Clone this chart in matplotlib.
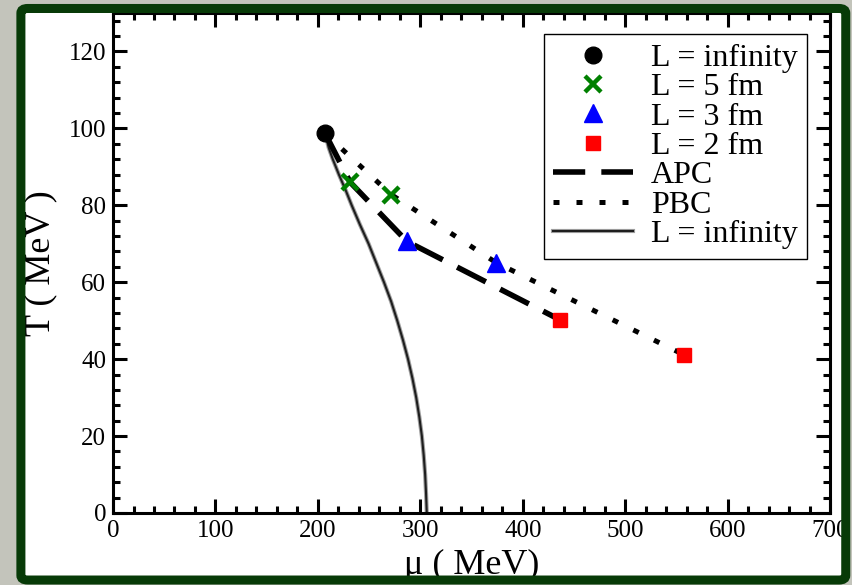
import matplotlib
matplotlib.use("Agg")
import matplotlib.pyplot as plt
import matplotlib.patheffects as pe
from matplotlib.patches import FancyBboxPatch, Rectangle
from matplotlib.ticker import MultipleLocator

plt.rcParams['font.family'] = ['Liberation Serif', 'DejaVu Serif']

# critical end point for each box size
mu_inf, T_inf = [207], [98.7]
mu_5fm = [231.5, 271.5]
T_5fm = [86.0, 82.8]
mu_3fm = [287, 374]
T_3fm = [70.6, 65.1]
mu_2fm = [436.5, 557.6]
T_2fm = [50.2, 41.1]

# lines through the end points
mu_apc = [207, 231.5, 287, 436.5]
T_apc = [98.7, 86.0, 70.6, 50.2]
mu_pbc = [207, 271.5, 374, 557.6]
T_pbc = [98.7, 82.8, 65.1, 41.1]

# phase boundary, L = infinity
mu_curve = [207, 210.5, 214.5, 220.5, 227, 233, 241, 249.5, 257, 264.5, 271.5,
            277.5, 283, 288, 292.3, 296, 299, 301.5, 303.3, 304.7, 305.6, 306.3]
T_curve = [98.7, 95, 92, 88, 84, 80, 75, 70, 65, 60, 55,
           50, 45, 40, 35, 30, 25, 20, 15, 10, 5, 0]

fig = plt.figure(figsize=(8.53, 5.85), dpi=100, facecolor='#c3c4bb')

# white panel + green frame
fig.patches.append(Rectangle((0.026, 0.012), 0.964, 0.97, transform=fig.transFigure,
                             facecolor='white', edgecolor='none', zorder=-5))
fig.patches.append(FancyBboxPatch((0.0245, 0.0085), 0.967, 0.977,
                                  boxstyle='round,pad=0,rounding_size=0.008',
                                  transform=fig.transFigure, facecolor='none',
                                  edgecolor='#073a07', lw=6.5, zorder=5))

ax = fig.add_axes([0.1325, 0.1231, 0.8406, 0.8547])
ax.set_facecolor('white')

curve, = ax.plot(mu_curve, T_curve, color='#1e1e1e', lw=1.5, label='L = infinity',
                 path_effects=[pe.Stroke(linewidth=3.0, foreground='#a0a0a0'), pe.Normal()],
                 zorder=2)
apc, = ax.plot(mu_apc, T_apc, color='black', lw=4, dashes=(5.8, 2.9), label='APC', zorder=3)
pbc, = ax.plot(mu_pbc, T_pbc, color='black', lw=3.6, dashes=(1.2, 3.4),
               dash_capstyle='butt', label='PBC', zorder=3)

p1, = ax.plot(mu_inf, T_inf, 'o', color='black', ms=12, ls='none', label='L = infinity', zorder=4)
p2, = ax.plot(mu_5fm, T_5fm, 'x', color='green', ms=11, mew=3.2, ls='none', label='L = 5 fm', zorder=4)
p3, = ax.plot(mu_3fm, T_3fm, '^', color='blue', ms=13, ls='none', label='L = 3 fm', zorder=4)
p4, = ax.plot(mu_2fm, T_2fm, 's', color='red', ms=10.5, ls='none', label='L = 2 fm', zorder=4)

ax.set_xlim(0, 700)
ax.set_ylim(0, 130)
ax.xaxis.set_major_locator(MultipleLocator(100))
ax.xaxis.set_minor_locator(MultipleLocator(20))
ax.yaxis.set_major_locator(MultipleLocator(20))
ax.yaxis.set_minor_locator(MultipleLocator(4))
ax.tick_params(which='both', direction='in', top=True, right=True, width=2.2, labelsize=18)
ax.tick_params(which='major', length=10, pad=5)
ax.tick_params(which='minor', length=5)
for s in ax.spines.values():
    s.set_linewidth(2.2)

ax.set_xlabel('μ ( MeV)', fontsize=26)
ax.set_ylabel('T ( MeV )', fontsize=26)
ax.xaxis.set_label_coords(0.5, -0.072)
ax.yaxis.set_label_coords(-0.077, 0.5)

leg = ax.legend([p1, p2, p3, p4, apc, pbc, curve],
                ['L = infinity', 'L = 5 fm', 'L = 3 fm', 'L = 2 fm', 'APC', 'PBC', 'L = infinity'],
                loc='upper right', bbox_to_anchor=(0.968, 0.958), borderaxespad=0,
                fontsize=23, numpoints=1, handlelength=2.5, handletextpad=0.55,
                labelspacing=0.0, borderpad=0.3, fancybox=False, framealpha=1,
                edgecolor='black')
leg.get_frame().set_linewidth(1.0)

fig.savefig('out.png', dpi=100, facecolor=fig.get_facecolor())
